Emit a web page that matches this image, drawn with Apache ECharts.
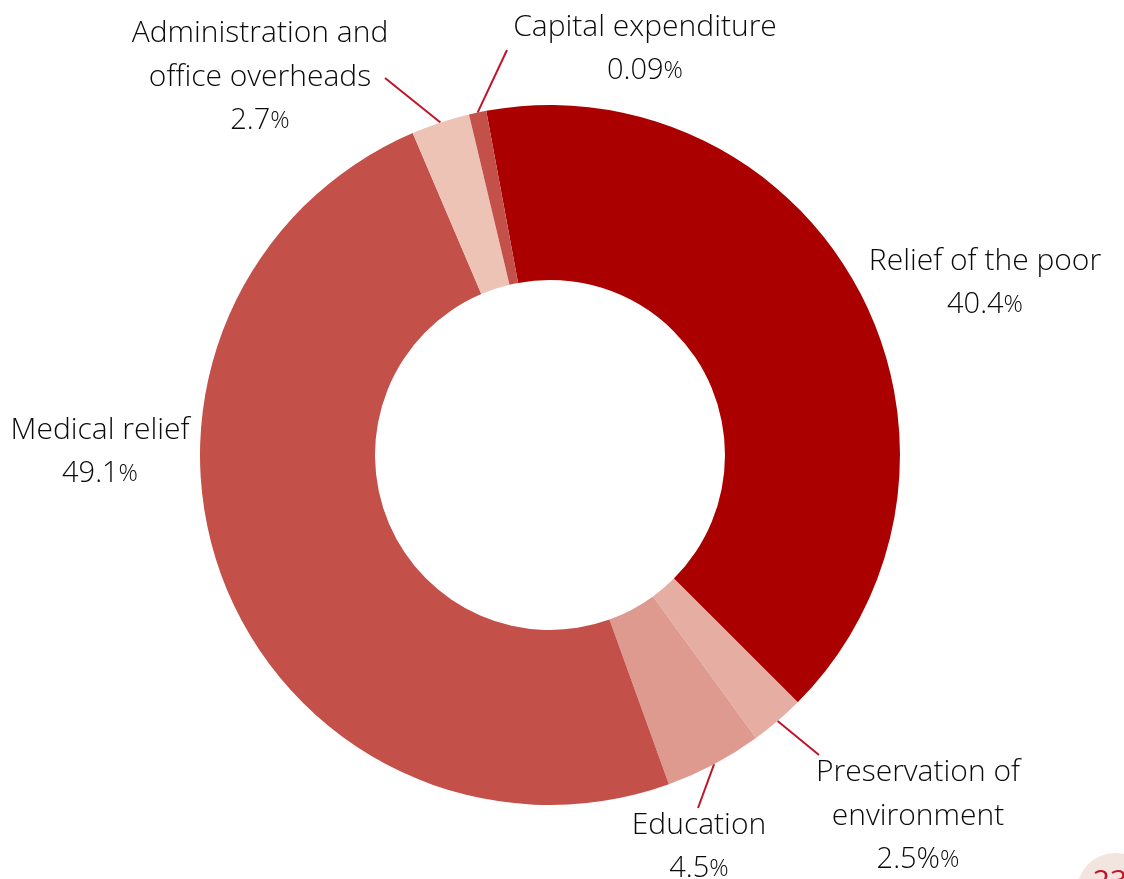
<!DOCTYPE html>
<html>
<head>
<meta charset="utf-8">
<script src="https://cdn.jsdelivr.net/npm/echarts@6/dist/echarts.min.js"></script>
<style>
html,body{margin:0;padding:0;background:#fff;}
#chart{width:1124px;height:879px;}
</style>
</head>
<body>
<div id="chart"></div>
<script>
// Data (clockwise from top)
const categories = ['Relief of the poor', 'Preservation of\nenvironment', 'Education', 'Medical relief', 'Administration and\noffice overheads', 'Capital expenditure'];
const values = [40.4, 2.5, 4.5, 49.1, 2.7, 0.8];
const valueLabels = ['40.4', '2.5%', '4.5', '49.1', '2.7', '0.09'];

// Styling / layout (not data)
const colors = ['#AA0000', '#E6AEA3', '#DE9A8E', '#C4504A', '#EDC3B5', '#C4504A'];
const labelPos = [
  {x: 985, y: 283, line: false},
  {x: 918, y: 816, line: true, end: [819, 755]},
  {x: 699, y: 847, line: true, end: [698, 808]},
  {x: 100, y: 452, line: false},
  {x: 260, y: 77, line: true, end: [385, 78]},
  {x: 645, y: 49, line: true, end: [507, 50]}
];

const chart = echarts.init(document.getElementById('chart'));
const font = 'Open Sans';
const fw = 300;
const tc = '#0a0a0a';
chart.setOption({
  animation: false,
  series: [{
    type: 'pie',
    center: [550, 455],
    radius: [175, 350],
    startAngle: 100.5,
    clockwise: true,
    avoidLabelOverlap: false,
    label: {
      show: true,
      position: 'outside',
      fontFamily: font,
      fontWeight: fw,
      fontSize: 30,
      color: tc,
      lineHeight: 44,
      align: 'center',
      formatter: function (p) {
        return '{t|' + p.name.split('\n').join('}\n{t|') + '}\n{n|' + valueLabels[p.dataIndex] + '}{p|%}';
      },
      rich: {
        t: {fontFamily: font, fontWeight: fw, fontSize: 30, lineHeight: 44, color: tc, align: 'center'},
        n: {fontFamily: font, fontWeight: fw, fontSize: 29, lineHeight: 44, color: tc, align: 'center'},
        p: {fontFamily: font, fontWeight: fw, fontSize: 24, lineHeight: 44, color: tc, align: 'center'}
      }
    },
    labelLine: {show: true, lineStyle: {color: '#C0142A', width: 2}, length: 20, length2: 10},
    labelLayout: function (params) {
      const lp = labelPos[params.dataIndex];
      const res = {x: lp.x, y: lp.y, align: 'center', verticalAlign: 'middle'};
      if (lp.line && params.labelLinePoints) {
        const s = params.labelLinePoints[0];
        res.labelLinePoints = [s, lp.end, lp.end];
      }
      return res;
    },
    data: categories.map(function (c, i) {
      return {
        name: c,
        value: values[i],
        itemStyle: {color: colors[i]},
        labelLine: {show: labelPos[i].line}
      };
    })
  }],
  graphic: [
    {type: 'circle', shape: {cx: 1115, cy: 891, r: 38}, style: {fill: '#F2E4DF'}, z: 0},
    {type: 'text', x: 1110, y: 882, style: {text: '23', fontFamily: font, fontSize: 30, fill: '#C0142A', align: 'center', verticalAlign: 'middle'}, z: 1}
  ]
});
</script>
</body>
</html>
